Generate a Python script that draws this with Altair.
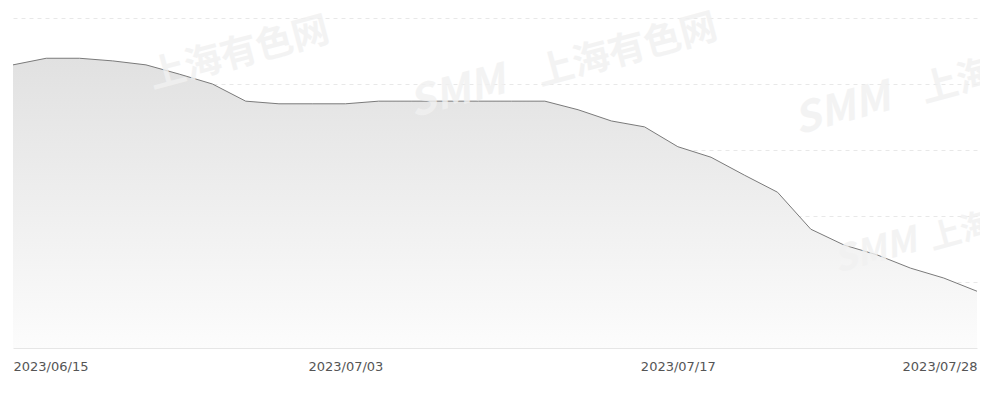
import json
import altair as alt
import pandas as pd

dates = ["2023/06/15", "2023/06/16", "2023/06/19", "2023/06/20", "2023/06/21",
         "2023/06/26", "2023/06/27", "2023/06/28", "2023/06/29", "2023/06/30",
         "2023/07/03", "2023/07/04", "2023/07/05", "2023/07/06", "2023/07/07",
         "2023/07/10", "2023/07/11", "2023/07/12", "2023/07/13", "2023/07/14",
         "2023/07/17", "2023/07/18", "2023/07/19", "2023/07/20", "2023/07/21",
         "2023/07/24", "2023/07/25", "2023/07/26", "2023/07/27", "2023/07/28"]
values = [429, 439, 439, 435, 429, 415, 400, 374, 370, 370,
          370, 374, 374, 374, 374, 374, 374, 361, 344, 335,
          305, 289, 262, 236, 180, 156, 141, 121, 106, 86]
tick_dates = ["2023/06/15", "2023/07/03", "2023/07/17", "2023/07/28"]

df = pd.DataFrame({"idx": list(range(len(dates))), "date": dates, "value": values})

x = alt.X("idx:Q",
          scale=alt.Scale(domain=[0, len(dates) - 1], nice=False, zero=False),
          axis=alt.Axis(values=[dates.index(d) for d in tick_dates],
                        labelExpr=f"{json.dumps(dates)}[datum.value]",
                        labelFlush=True, title=None, grid=False, ticks=False,
                        domain=True, domainColor="#e6e6e6", domainWidth=1,
                        labelColor="#555555", labelFontSize=13,
                        labelFont="DejaVu Sans", labelPadding=12))
y = alt.Y("value:Q",
          scale=alt.Scale(domain=[0, 500], nice=False),
          axis=alt.Axis(values=[100, 200, 300, 400, 500], labels=False, ticks=False,
                        domain=False, title=None, grid=True, gridColor="#e8e8e8",
                        gridDash=[4, 4], gridWidth=1))

area = alt.Chart(df).mark_area(
    color=alt.Gradient(gradient="linear",
                       stops=[alt.GradientStop(color="#e1e1e1", offset=0),
                              alt.GradientStop(color="#fcfcfc", offset=1)],
                       x1=1, x2=1, y1=0, y2=1),
    line=False, opacity=1
).encode(x=x, y=y)

line = alt.Chart(df).mark_line(color="#7a7a7a", strokeWidth=1).encode(x="idx:Q", y="value:Q")

wm = pd.DataFrame({"t": [0]})
def wmark(text, px, py, size, italic=False):
    return alt.Chart(wm).mark_text(
        text=text, angle=345, fontSize=size, fontWeight="bold",
        fontStyle="italic" if italic else "normal",
        font="Noto Sans CJK SC", color="#f1f1f1", opacity=0.8, align="left",
        baseline="middle"
    ).encode(x=alt.value(px - 13), y=alt.value(py - 18))

marks = [
    wmark("上海有色网", 150, 78, 37),
    wmark("SMM", 410, 105, 42, True), wmark("上海有色网", 538, 75, 37),
    wmark("SMM", 795, 122, 42, True), wmark("上海", 922, 92, 37),
    wmark("SMM", 835, 262, 36, True), wmark("上海", 930, 240, 32),
]

chart = alt.layer(area, line, *marks).properties(
    width=964, height=330,
    padding={"left": 5, "top": 10, "right": 3, "bottom": 45},
    autosize=alt.AutoSizeParams(type="none"),
    background="#ffffff"
).configure_view(stroke=None)

chart.save("out.html", embed_options={"renderer": "svg", "actions": False})
